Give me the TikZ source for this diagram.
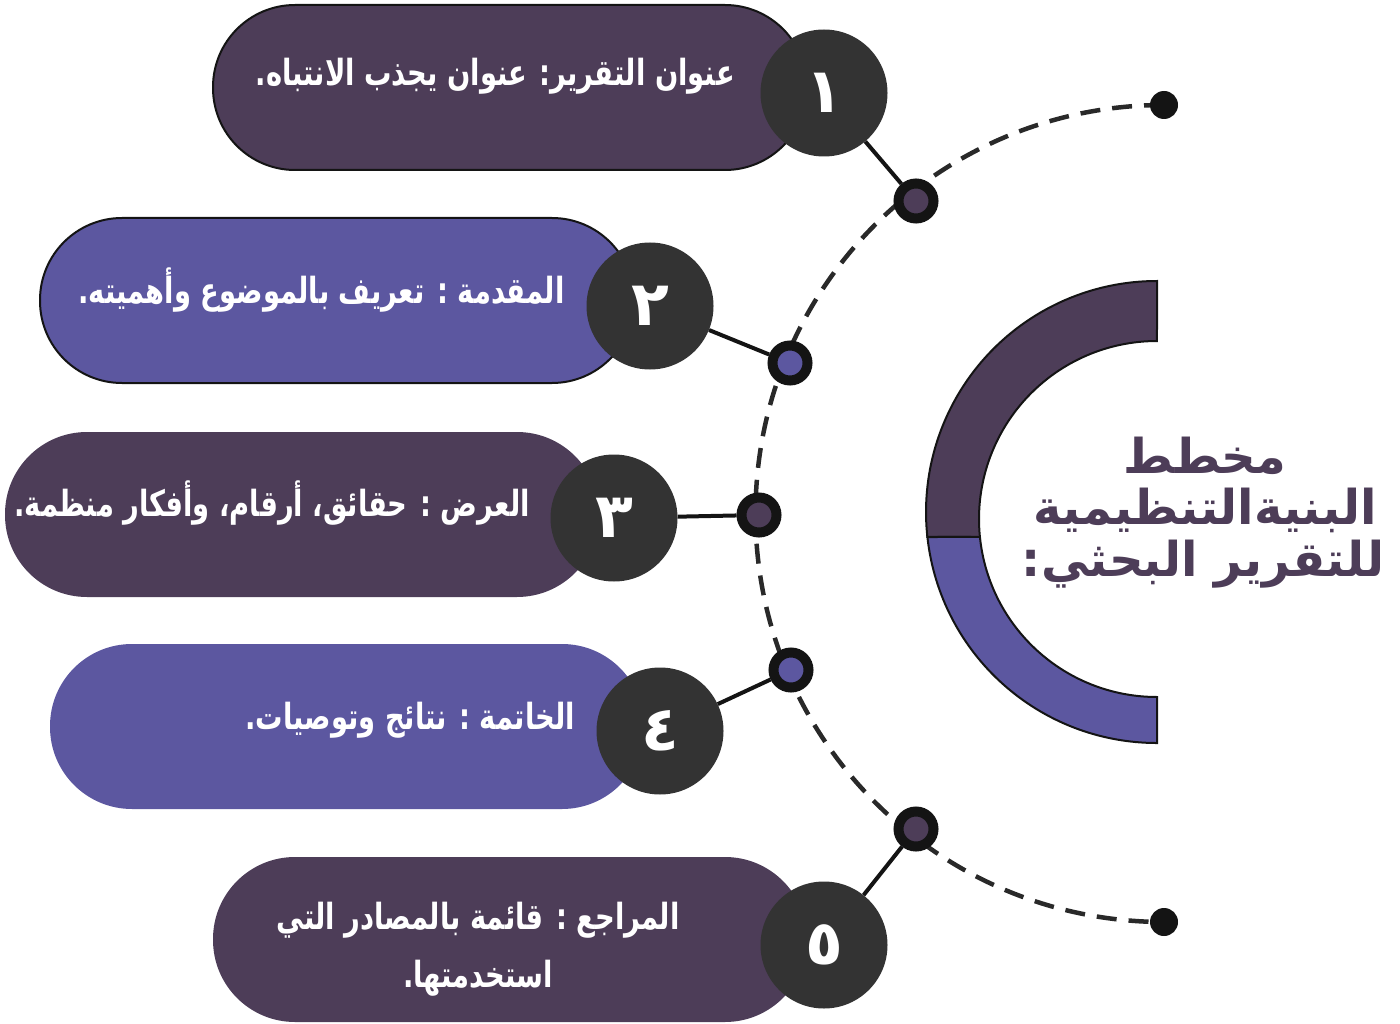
\documentclass[tikz,border=0pt]{standalone}
\usepackage{fontspec}
\TeXXeTstate=1
\newfontfamily\arabicfont[Script=Arabic]{DejaVu Sans}
\newfontfamily\bodyfont[Script=Arabic, FakeStretch=0.76]{DejaVu Sans}
\definecolor{darkp}{HTML}{4D3D58}
\definecolor{bluep}{HTML}{5C57A0}
\definecolor{numc}{HTML}{333333}
\definecolor{ink}{HTML}{141414}
\begin{document}
\begin{tikzpicture}[x=1pt,y=-1pt,
  pill/.style={rectangle, rounded corners=82pt, minimum width=594pt, minimum height=165pt, inner sep=0pt},
  numcirc/.style={circle, fill=numc, minimum size=127pt, inner sep=0pt, text=white, font=\arabicfont\bfseries\fontsize{62}{70}\selectfont},
  ringdot/.style={circle, draw=ink, line width=10pt, minimum size=35pt, inner sep=0pt},
  enddot/.style={circle, fill=ink, minimum size=28pt, inner sep=0pt},
  conn/.style={line width=4pt, ink},
  arcline/.style={line width=4.5pt, dash pattern=on 20pt off 12pt, color=numc!80!black},
  txt/.style={text=white, inner sep=0pt, font=\bodyfont\bfseries\fontsize{36}{58}\selectfont},
  ttl/.style={text=darkp, inner sep=0pt, font=\arabicfont\bfseries\fontsize{48}{54}\selectfont}
]
\useasboundingbox (0,0) rectangle (1400,1024);

% dashed arc
\coordinate (ac) at (1164,513.5);
\draw[arcline] (1164,105) arc[start angle=270, end angle=90, radius=408.5];
\node[enddot] (e1) at (1164,105) {};
\node[enddot] (e2) at (1164,922) {};

% half ring
\fill[darkp, draw=ink, line width=2pt]
  (1157,281) arc[start angle=270, end angle=173.79, radius=231]
  -- (979.9,537) arc[start angle=174.2, end angle=270, radius=178] -- cycle;
\fill[bluep, draw=ink, line width=2pt]
  (927.4,537) arc[start angle=173.79, end angle=90, radius=231]
  -- (1157,697) arc[start angle=90, end angle=174.2, radius=178] -- cycle;

% title
\node[ttl] (tl1) at (1205,456) {\beginR مخطط\endR};
\node[ttl] (tl2) at (1205,510) {\beginR البنيةالتنظيمية\endR};
\node[ttl] (tl3) at (1203,564) {\beginR للتقرير البحثي:\endR};

% pills
\node[pill, fill=darkp, draw=ink, line width=2pt] (p1) at (510,87.5) {};
\node[pill, fill=bluep, draw=ink, line width=2pt] (p2) at (337,300.5) {};
\node[pill, fill=darkp] (p3) at (302,514.5) {};
\node[pill, fill=bluep] (p4) at (347,726.5) {};
\node[pill, fill=darkp] (p5) at (510,939.5) {};

% texts
\node[txt, anchor=east] (t1) at (735,76) {\beginR عنوان التقرير: عنوان يجذب الانتباه.\endR};
\node[txt, anchor=east] (t2) at (565,290) {\beginR المقدمة : تعريف بالموضوع وأهميته.\endR};
\node[txt, anchor=east] (t3) at (530,503) {\beginR العرض : حقائق، أرقام، وأفكار منظمة.\endR};
\node[txt, anchor=east] (t4) at (575,720) {\beginR الخاتمة : نتائج وتوصيات.\endR};
\node[txt, align=center] (t5) at (478,949) {\beginR المراجع : قائمة بالمصادر التي\endR\\\beginR استخدمتها.\endR};

% number circles
\node[numcirc] (c1) at (824,93) {١};
\node[numcirc] (c2) at (650,306) {٢};
\node[numcirc] (c3) at (614,518) {٣};
\node[numcirc] (c4) at (660,731) {٤};
\node[numcirc] (c5) at (824,945) {٥};

% dots on arc
\node[ringdot, fill=darkp] (d1) at (916,201) {};
\node[ringdot, fill=bluep] (d2) at (790,363) {};
\node[ringdot, fill=darkp] (d3) at (759,515) {};
\node[ringdot, fill=bluep] (d4) at (791,670) {};
\node[ringdot, fill=darkp] (d5) at (916,829) {};

% connectors
\draw[conn] (c1) -- (d1);
\draw[conn] (c2) -- (d2);
\draw[conn] (c3) -- (d3);
\draw[conn] (c4) -- (d4);
\draw[conn] (c5) -- (d5);
\end{tikzpicture}
\end{document}
